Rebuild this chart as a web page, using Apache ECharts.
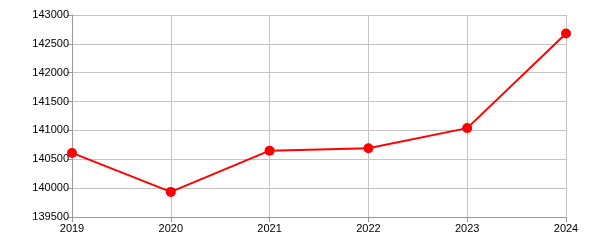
<!DOCTYPE html>
<html><head><meta charset="utf-8">
<script src="https://cdn.jsdelivr.net/npm/echarts@6/dist/echarts.min.js"></script>
<style>html,body{margin:0;padding:0;background:#fff}#c{width:600px;height:250px}</style>
</head><body><div id="c"></div>
<script>
const years = ['2019','2020','2021','2022','2023','2024'];
const values = [140610, 139935, 140650, 140690, 141040, 142680];
const chart = echarts.init(document.getElementById('c'), null, {renderer:'canvas'});
const axisLbl = {color:'#000', fontFamily:'Liberation Sans, Arial, sans-serif', fontSize:11};
chart.setOption({
  animation:false,
  grid:{left:72, right:34, top:15, bottom:33, containLabel:false},
  xAxis:{type:'category', data:years, boundaryGap:false,
    axisLine:{lineStyle:{color:'#999', width:1}},
    axisTick:{show:true, length:5, lineStyle:{color:'#999'}, alignWithLabel:true},
    axisLabel:Object.assign({margin:6}, axisLbl),
    splitLine:{show:true, lineStyle:{color:'#c4c4c4', width:1}}},
  yAxis:{type:'value', min:139500, max:143000, interval:500,
    axisLine:{show:true, lineStyle:{color:'#999', width:1}},
    axisTick:{show:true, length:5, lineStyle:{color:'#999'}},
    axisLabel:Object.assign({margin:3, formatter:v=>String(v)}, axisLbl),
    splitLine:{show:true, lineStyle:{color:'#c4c4c4', width:1}}},
  series:[{type:'line', data:values, symbol:'circle', symbolSize:10,
    lineStyle:{color:'#ff0000', width:2}, itemStyle:{color:'#ff0000'}}]
});
</script></body></html>
